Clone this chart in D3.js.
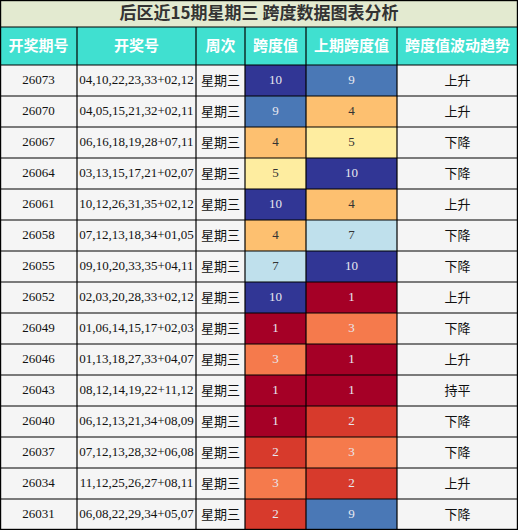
<!DOCTYPE html><html><head><meta charset="utf-8"><script src="https://cdn.jsdelivr.net/npm/d3@7"></script>
<style>body{margin:0;background:#fff}</style></head><body><svg id="c" width="518" height="530"></svg><script>
const title="后区近15期星期三 跨度数据图表分析";
const headers=["开奖期号","开奖号","周次","跨度值","上期跨度值","跨度值波动趋势"];
const periods=["26073","26070","26067","26064","26061","26058","26055","26052","26049","26046","26043","26040","26037","26034","26031"];
const draws=["04,10,22,23,33+02,12","04,05,15,21,32+02,11","06,16,18,19,28+07,11","03,13,15,17,21+02,07","10,12,26,31,35+02,12","07,12,13,18,34+01,05","09,10,20,33,35+04,11","02,03,20,28,33+02,12","01,06,14,15,17+02,03","01,13,18,27,33+04,07","08,12,14,19,22+11,12","06,12,13,21,34+08,09","07,12,13,28,32+06,08","11,12,25,26,27+08,11","06,08,22,29,34+05,07"];
const weekdays=periods.map(()=> "星期三");
const spans=[10,9,4,5,10,4,7,10,1,3,1,1,2,3,2];
const prevSpans=[9,4,5,10,4,7,10,1,3,1,1,2,3,2,9];
const trends=["上升","上升","下降","下降","上升","下降","下降","上升","下降","上升","持平","下降","下降","上升","下降"];
const colorMap={10:"#313695",9:"#4a78b6",7:"#bfe0ec",5:"#feeda0",4:"#fdc070",3:"#f57a4c",2:"#d73a2c",1:"#a50026"};
const dark=new Set([10,9,3,2,1]);
const svg=d3.select("#c");
const x=d3.scaleOrdinal().domain(d3.range(7)).range([0,77,196,245,306,397,518]);
const W=518,titleH=27,headH=38,rowH=31;
const y=d3.scaleLinear().domain([0,15]).range([titleH+headH,titleH+headH+15*rowH]);
const serif="'Liberation Serif','DejaVu Serif',serif", cjk="'Noto Sans CJK SC',sans-serif";
svg.append("rect").attr("width",W).attr("height",titleH).attr("fill","#e3ead0");
svg.append("text").attr("x",W/2).attr("y",titleH/2+1).attr("text-anchor","middle").attr("dominant-baseline","middle")
 .attr("font-family",cjk).attr("font-weight","bold").attr("font-size",17).attr("fill","#333").text(title);
headers.forEach((h,i)=>{
 svg.append("rect").attr("x",x(i)).attr("y",titleH).attr("width",x(i+1)-x(i)).attr("height",headH).attr("fill","#40e0d0");
 svg.append("text").attr("x",(x(i)+x(i+1))/2).attr("y",titleH+headH/2+1).attr("text-anchor","middle").attr("dominant-baseline","middle")
  .attr("font-family",cjk).attr("font-weight","bold").attr("font-size",15).attr("fill","#fff").text(h);
});
periods.forEach((p,r)=>{
 const cells=[p,draws[r],weekdays[r],spans[r],prevSpans[r],trends[r]];
 cells.forEach((v,i)=>{
  let fill="#f5f5f5",tc="#111";
  if(i==3||i==4){fill=colorMap[v];tc=dark.has(v)?"#e8e8f0":"#333";}
  svg.append("rect").attr("x",x(i)).attr("y",y(r)).attr("width",x(i+1)-x(i)).attr("height",rowH).attr("fill",fill);
  svg.append("text").attr("x",(x(i)+x(i+1))/2).attr("y",y(r)+rowH/2+1).attr("text-anchor","middle").attr("dominant-baseline","middle")
   .attr("font-family",(i==2||i==5)?cjk:serif).attr("font-size",(i==2||i==5)?13:13).attr("fill",tc).text(v);
 });
});
const g=svg.append("g").attr("stroke","#000").attr("stroke-width",1.2);
g.append("rect").attr("x",0.6).attr("y",0.6).attr("width",W-1.2).attr("height",530-1.2).attr("fill","none");
g.append("line").attr("x1",0).attr("x2",W).attr("y1",titleH).attr("y2",titleH);
d3.range(16).forEach(r=>g.append("line").attr("x1",0).attr("x2",W).attr("y1",y(r)).attr("y2",y(r)));
d3.range(1,6).forEach(i=>g.append("line").attr("x1",x(i)).attr("x2",x(i)).attr("y1",titleH).attr("y2",530));
</script></body></html>
